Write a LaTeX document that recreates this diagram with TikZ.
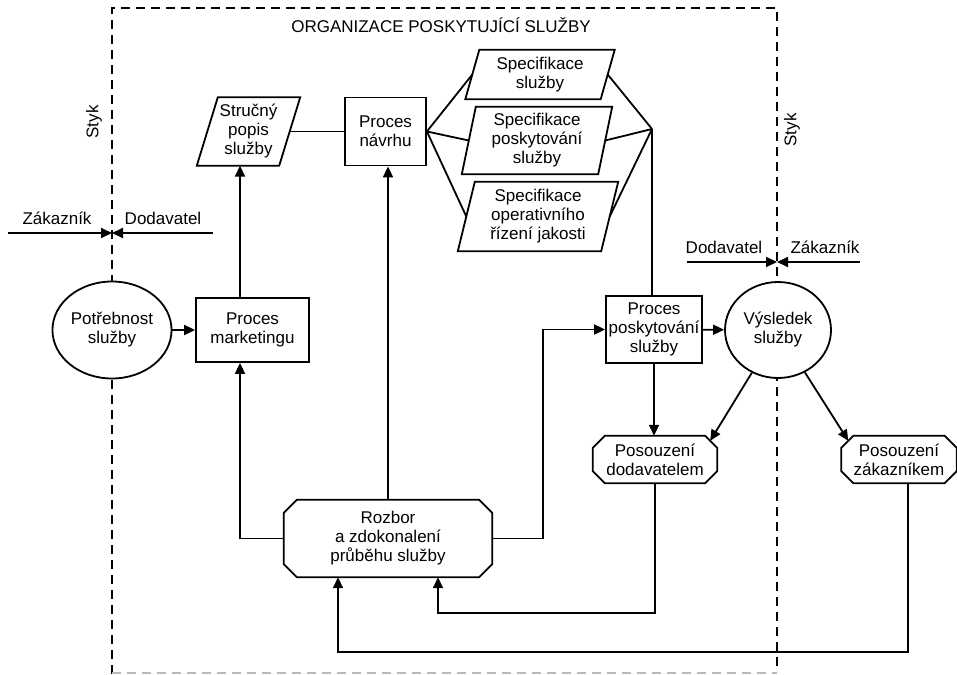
\documentclass[tikz,border=0pt]{standalone}
\usepackage{fontspec}
\setmainfont{Liberation Sans}
\usetikzlibrary{arrows.meta,shapes.geometric}
\newcommand\paraout[2]{\draw[ln] ([xshift=#2]#1.north west) -- ([xshift=#2]#1.north east) -- ([xshift=-#2]#1.south east) -- ([xshift=-#2]#1.south west) -- cycle;}
\newcommand\chamout[3]{\draw[ln] ([xshift=#2]#1.north west) -- ([xshift=-#2]#1.north east) -- ([yshift=-#3]#1.north east) -- ([yshift=#3]#1.south east) -- ([xshift=-#2]#1.south east) -- ([xshift=#2]#1.south west) -- ([yshift=#3]#1.south west) -- ([yshift=-#3]#1.north west) -- cycle;}
\begin{document}
\begin{tikzpicture}[x=1pt,y=-1pt,
  every node/.style={font=\fontsize{17}{19}\selectfont, align=center, inner sep=1pt},
  ln/.style={line width=1.8pt, line join=miter},
  arr/.style={ln, -{Triangle[length=11pt,width=10pt]}},
  box/.style={draw, ln, rectangle},
  shapebox/.style={rectangle},
  frame/.style={line width=1.8pt, dash pattern=on 9pt off 6pt},
  circ/.style={ellipse, draw, ln, fill=white, minimum width=108pt, minimum height=97pt}]
\useasboundingbox (0,0) rectangle (957,674);

% interface frame
\coordinate (FTL) at (112,8);
\coordinate (FTR) at (777,8);
\coordinate (FBL) at (112,674);
\coordinate (FBR) at (777,670);
\draw[frame] (FBL) -- (FTL) -- (FTR) -- (FBR);
\draw[frame, gray!55] (112,673) coordinate (GB1) -- (777,673) coordinate (GB2);

\node (title) at (441,25) {ORGANIZACE POSKYTUJÍCÍ SLUŽBY};
\node[rotate=90] (styk1) at (94,122) {Styk};
\node[rotate=90] (styk2) at (792,130) {Styk};

% customer/supplier markers
\coordinate (LA) at (8,233);
\coordinate (LB) at (213,233);
\coordinate (LC) at (112,233);
\draw[arr] (LA) -- (LC);
\draw[arr] (LB) -- (LC);
\node (zak1) at (57,218) {Zákazník};
\node (dod1) at (163,218) {Dodavatel};

\coordinate (RA) at (687,262);
\coordinate (RB) at (860,262);
\coordinate (RC) at (777,262);
\draw[arr] (RA) -- (RC);
\draw[arr] (RB) -- (RC);
\node (dod2) at (724,247) {Dodavatel};
\node (zak2) at (825,247) {Zákazník};

% nodes
\node[circ] (pot) at (112,330) {Potřebnost\\služby};
\node[circ, minimum width=106pt, minimum height=96pt] (vys) at (778,330) {Výsledek\\služby};
\node[box, minimum width=113pt, minimum height=64pt] (mkt) at (252.5,330) {Proces\\marketingu};
\node[shapebox, minimum width=82pt, minimum height=68pt] (str) at (248.5,131.5) {Stručný\\popis\\služby};
\paraout{str}{10.5pt}
\node[box, minimum width=81pt, minimum height=68pt] (navrh) at (385.5,131.5) {Proces\\návrhu};
\node[shapebox, minimum width=135pt, minimum height=49pt] (spA) at (540,74.5) {Specifikace\\služby};
\paraout{spA}{7pt}
\node[shapebox, minimum width=136pt, minimum height=67pt] (spB) at (537,140.5) {Specifikace\\poskytování\\služby};
\paraout{spB}{7pt}
\node[shapebox, minimum width=143pt, minimum height=69pt] (spC) at (538,216.5) {Specifikace\\operativního\\řízení jakosti};
\paraout{spC}{8.5pt}
\node[box, minimum width=96pt, minimum height=67pt] (posk) at (654,329.5) {Proces\\poskytování\\služby};
\node[shapebox, minimum width=208pt, minimum height=77pt] (rozbor) at (388,538.5) {Rozbor\\a zdokonalení\\průběhu služby};
\chamout{rozbor}{13pt}{13pt}
\node[shapebox, minimum width=124pt, minimum height=47pt] (psd) at (655,459.5) {Posouzení\\dodavatelem};
\chamout{psd}{12pt}{12pt}
\node[shapebox, minimum width=115pt, minimum height=47pt] (psz) at (899,459.5) {Posouzení\\zákazníkem};
\chamout{psz}{12pt}{12pt}

% connectors
\coordinate (J) at (652,129);
\coordinate (xm) at (240,0);
\coordinate (xr) at (543,0);
\coordinate (fb1) at (438,613);
\coordinate (fb2) at (338,652);

\draw[arr] (pot) -- (mkt);
\draw[arr] (xm |- mkt.north) -- (xm |- str.south);
\draw[ln] (str.east) -- (navrh.west);
\draw[ln] (navrh.east) -- (spA.west);
\draw[ln] (navrh.east) -- (spB.west);
\draw[ln] (navrh.east) -- (spC.west);
\draw[ln] (spA.east) -- (J);
\draw[ln] (spB.east) -- (J);
\draw[ln] (spC.east) -- (J);
\draw[ln] (J) -- (J |- posk.north);
\draw[arr] (posk) -- (vys);
\draw[arr] (posk.south) -- (posk.south |- psd.north);
\draw[arr] (vys) -- ([shift={(-7,5)}]psd.north east);
\draw[arr] (vys) -- ([shift={(7,5)}]psz.north west);
\draw[arr] (rozbor.west) -| (xm |- mkt.south);
\draw[arr] (rozbor.north) -- (rozbor.north |- navrh.south);
\draw[arr] (rozbor.east) -| (xr |- posk.west) -- (posk.west);
\draw[arr] (psd.south) |- (fb1) -- (fb1 |- rozbor.south);
\draw[arr] ([xshift=9pt]psz.south) |- (fb2) -- (fb2 |- rozbor.south);
\end{tikzpicture}
\end{document}
